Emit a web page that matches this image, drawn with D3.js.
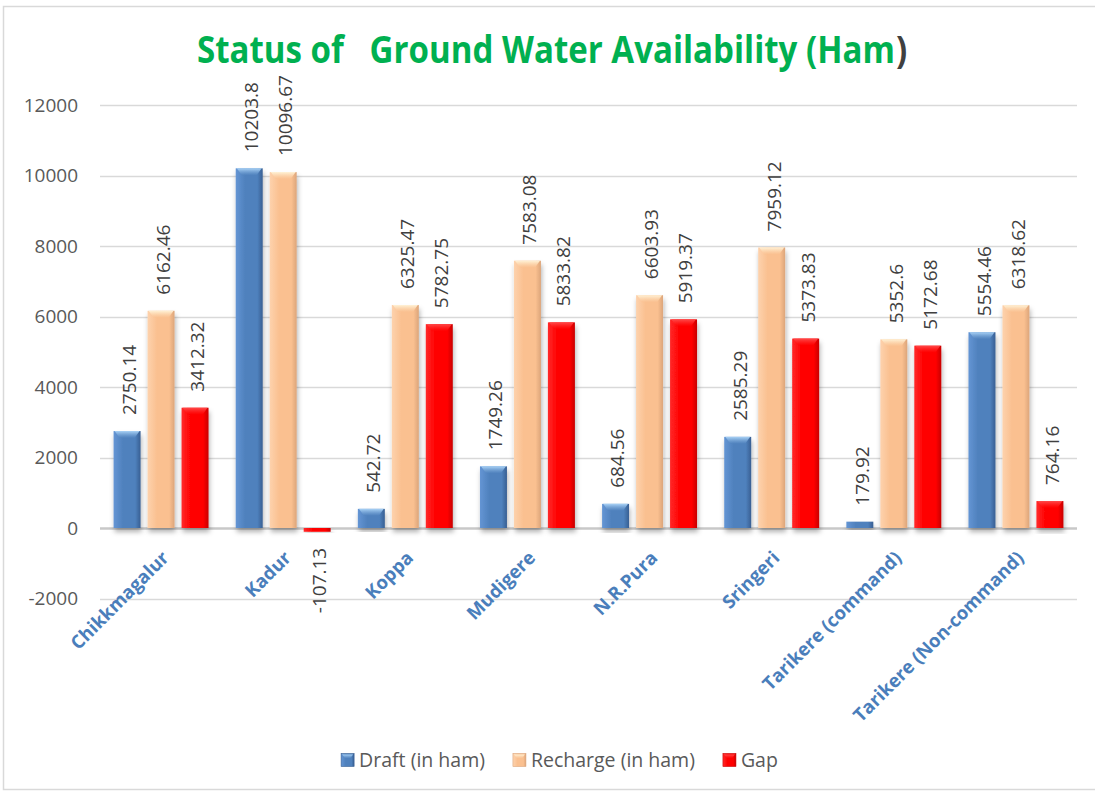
<!DOCTYPE html>
<html>
<head>
<meta charset="utf-8">
<script src="https://cdn.jsdelivr.net/npm/d3@7"></script>
<style>
  html, body { margin: 0; padding: 0; background: #fff; }
  svg { display: block; }
</style>
</head>
<body>
<svg id="chart" width="1095" height="794"></svg>
<script>
const categories = ["Chikkmagalur", "Kadur", "Koppa", "Mudigere", "N.R.Pura", "Sringeri", "Tarikere (command)", "Tarikere (Non-command)"];
const seriesNames = ["Draft (in ham)", "Recharge (in ham)", "Gap"];
const draft = [2750.14, 10203.8, 542.72, 1749.26, 684.56, 2585.29, 179.92, 5554.46];
const recharge = [6162.46, 10096.67, 6325.47, 7583.08, 6603.93, 7959.12, 5352.6, 6318.62];
const gap = [3412.32, -107.13, 5782.75, 5833.82, 5919.37, 5373.83, 5172.68, 764.16];
const yTicks = [-2000, 0, 2000, 4000, 6000, 8000, 10000, 12000];
const titleMain = "Status of   Ground Water Availability (Ham";
const titleTail = ")";

const seriesValues = [draft, recharge, gap];
const colors = {
  "Draft (in ham)": { left: "#6495d4", mid: "#4f81bd", right: "#385f93", bevel: "#a9d2f6" },
  "Recharge (in ham)": { left: "#fdd2ad", mid: "#fac090", right: "#dca57a", bevel: "#fff2d6" },
  "Gap": { left: "#ff2a2a", mid: "#ff0000", right: "#c80000", bevel: "#ff4a4a" }
};

const svg = d3.select("#chart");
const defs = svg.append("defs");

seriesNames.forEach((s, i) => {
  const c = colors[s];
  const g = defs.append("linearGradient").attr("id", "grad" + i)
    .attr("x1", "0%").attr("x2", "100%").attr("y1", "0%").attr("y2", "0%");
  g.append("stop").attr("offset", "0%").attr("stop-color", c.left);
  g.append("stop").attr("offset", "35%").attr("stop-color", c.mid);
  g.append("stop").attr("offset", "80%").attr("stop-color", c.mid);
  g.append("stop").attr("offset", "100%").attr("stop-color", c.right);
  const b = defs.append("linearGradient").attr("id", "bevel" + i)
    .attr("x1", "0%").attr("x2", "0%").attr("y1", "0%").attr("y2", "100%");
  b.append("stop").attr("offset", "0%").attr("stop-color", c.bevel);
  b.append("stop").attr("offset", "100%").attr("stop-color", c.mid).attr("stop-opacity", 0.6);
});

const f = defs.append("filter").attr("id", "shadow").attr("x", "-30%").attr("y", "-10%").attr("width", "160%").attr("height", "130%");
f.append("feDropShadow").attr("dx", 1).attr("dy", 4).attr("stdDeviation", 2.5)
  .attr("flood-color", "#000").attr("flood-opacity", 0.3);

// outer border
svg.append("rect").attr("x", 3.5).attr("y", 6.5).attr("width", 1100).attr("height", 783)
  .attr("fill", "#fff").attr("stroke", "#d9d9d9").attr("stroke-width", 1.5);

// title (horizontally condensed via scale to mimic the narrow original face)
const titleWidth = 698;
const tMain = svg.append("text")
  .attr("font-family", "'Open Sans', sans-serif")
  .attr("font-weight", 700)
  .attr("font-size", 37)
  .attr("fill", "#00b050")
  .style("white-space", "pre")
  .text(titleMain);
const natural = tMain.node().getComputedTextLength();
tMain.attr("transform", `translate(197,63) scale(${titleWidth / natural},1)`);
svg.append("text")
  .attr("transform", `translate(${197 + titleWidth + 1},63) scale(${titleWidth / natural},1)`)
  .attr("font-family", "'Open Sans', sans-serif")
  .attr("font-weight", 700)
  .attr("font-size", 37)
  .attr("fill", "#404040")
  .text(titleTail);

const plotLeft = 100, plotRight = 1077;
const y = d3.scaleLinear().domain([-2000, 12000]).range([598.5, 105]);
const x0 = d3.scaleBand().domain(categories).range([plotLeft, plotRight]).padding(0);
const x1 = d3.scaleBand().domain(seriesNames).range([0, x0.bandwidth()]).paddingInner(7 / 34).paddingOuter(0.4);

// gridlines
const grid = svg.append("g");
grid.selectAll("line").data(yTicks).join("line")
  .attr("x1", plotLeft).attr("x2", plotRight)
  .attr("y1", d => Math.round(y(d)) + 0.5).attr("y2", d => Math.round(y(d)) + 0.5)
  .attr("stroke", d => d === 0 ? "#c8c8c8" : "#d9d9d9")
  .attr("stroke-width", d => d === 0 ? 2.5 : 1.5);

// y axis labels via d3 axis
const yAxis = svg.append("g").attr("transform", `translate(${plotLeft},0)`)
  .call(d3.axisLeft(y).tickValues(yTicks).tickSize(0).tickPadding(22).tickFormat(d => String(d)));
yAxis.select(".domain").remove();
yAxis.selectAll("text")
  .attr("font-family", "'Open Sans', sans-serif")
  .attr("font-size", 19)
  .attr("fill", "#595959");

// bars
const groups = svg.append("g").selectAll("g").data(categories).join("g")
  .attr("transform", d => `translate(${x0(d)},0)`);

const barData = (cat, ci) => seriesNames.map((s, si) => ({ s, si, v: seriesValues[si][ci], cat }));

groups.each(function (cat, ci) {
  const g = d3.select(this);
  const data = barData(cat, ci);
  const bars = g.selectAll("g.bar").data(data).join("g").attr("class", "bar");
  bars.append("rect")
    .attr("x", d => x1(d.s))
    .attr("width", x1.bandwidth())
    .attr("y", d => y(Math.max(0, d.v)))
    .attr("height", d => Math.abs(y(d.v) - y(0)))
    .attr("fill", d => `url(#grad${d.si})`)
    .attr("filter", "url(#shadow)");
  // top bevel
  bars.filter(d => d.v > 0 && (y(0) - y(d.v)) > 8).append("path")
    .attr("d", d => {
      const xa = x1(d.s) + 1, xb = x1(d.s) + x1.bandwidth() - 1, t = y(d.v);
      return `M${xa},${t} L${xb},${t} L${xb - 5},${t + 7} L${xa + 5},${t + 7} Z`;
    })
    .attr("fill", d => `url(#bevel${d.si})`);
  // data labels
  bars.append("text")
    .attr("transform", d => {
      const cx = x1(d.s) + x1.bandwidth() / 2 + 2;
      const ty = d.v >= 0 ? y(d.v) - 16 : y(d.v) + 16;
      return `translate(${cx},${ty}) rotate(-90)`;
    })
    .attr("text-anchor", d => d.v >= 0 ? "start" : "end")
    .attr("dy", "0.36em")
    .attr("font-family", "'Open Sans', sans-serif")
    .attr("font-size", 19)
    .attr("fill", "#404040")
    .text(d => d.v);
});

// category labels
svg.append("g").selectAll("text").data(categories).join("text")
  .attr("transform", d => `translate(${x0(d) + x0.bandwidth() / 2 + 9},${559}) rotate(-45)`)
  .attr("text-anchor", "end")
  .attr("font-family", "'Open Sans', sans-serif")
  .attr("font-weight", 700)
  .attr("font-size", 18.5)
  .attr("fill", "#4a7ebb")
  .text(d => d);

// legend
const legend = svg.append("g");
const items = legend.selectAll("g").data(seriesNames).join("g");
items.append("rect").attr("width", 13).attr("height", 13).attr("y", -6.5)
  .attr("fill", (d, i) => `url(#grad${i})`)
  .attr("stroke", (d) => colors[d].right).attr("stroke-width", 0.6);
items.append("path")
  .attr("d", "M1,-5.5 L12,-5.5 L9,-1.5 L4,-1.5 Z")
  .attr("fill", (d, i) => `url(#bevel${i})`);
items.append("text").attr("x", 18).attr("dy", "0.35em")
  .attr("font-family", "'Open Sans', sans-serif")
  .attr("font-size", 19.5)
  .attr("fill", "#595959")
  .text(d => d);
const widths = [];
items.each(function () { widths.push(this.getBBox().width); });
const spacing = 28;
const total = d3.sum(widths) + spacing * (widths.length - 1);
let cx = 559.5 - total / 2;
items.attr("transform", (d, i) => {
  const t = `translate(${cx},760)`;
  cx += widths[i] + spacing;
  return t;
});
</script>
</body>
</html>
